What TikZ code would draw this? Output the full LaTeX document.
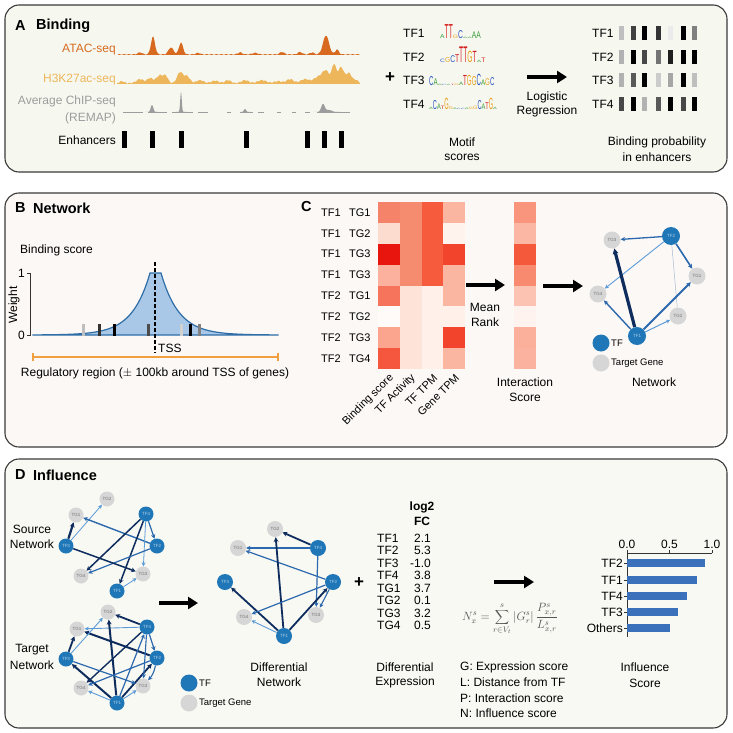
\documentclass[tikz,border=0pt]{standalone}
\usepackage{fontspec}
\setmainfont{Liberation Sans}
\usepackage{graphicx}
\usetikzlibrary{arrows.meta}
\definecolor{bgA}{HTML}{F6F8F0}
\definecolor{bgB}{HTML}{FCF8F6}
\definecolor{bgD}{HTML}{F9F9F3}
\definecolor{frame}{HTML}{3A3A3A}
\definecolor{atac}{HTML}{D76A1F}
\definecolor{hk}{HTML}{EDB65A}
\definecolor{remap}{HTML}{9C9C9C}
\definecolor{tfblue}{HTML}{1F77B8}
\definecolor{tggray}{HTML}{D6D6D6}
\definecolor{edk}{HTML}{0E2D5E}
\definecolor{edm}{HTML}{2C68AD}
\definecolor{edl}{HTML}{5B9BD8}
\definecolor{edv}{HTML}{A8BCD2}
\definecolor{mA}{HTML}{3A9A3A}
\definecolor{mC}{HTML}{2A55C0}
\definecolor{mG}{HTML}{E8A020}
\definecolor{mT}{HTML}{D52020}
\definecolor{curvefill}{HTML}{A9C8E8}
\definecolor{curveline}{HTML}{2E6DA6}
\definecolor{rng}{HTML}{F0A040}
\definecolor{barblue}{HTML}{3B70BB}
\definecolor{txtgray}{HTML}{555555}
\newcommand\lA[1]{\textcolor{mA}{\scalebox{0.56}[\fpeval{1.35*#1}]{A}}}
\newcommand\lC[1]{\textcolor{mC}{\scalebox{0.56}[\fpeval{1.35*#1}]{C}}}
\newcommand\lG[1]{\textcolor{mG}{\scalebox{0.56}[\fpeval{1.35*#1}]{G}}}
\newcommand\lT[1]{\textcolor{mT}{\scalebox{0.56}[\fpeval{1.35*#1}]{T}}}
\newcommand\hrow[5]{%
  \foreach \cc [count=\i from 0] in {#2,#3,#4,#5}{%
    \edef\tmpc{\noexpand\definecolor{hc}{HTML}{\cc}}\tmpc
    \fill[hc] ({378+\i*21.75},{202+#1*20.875}) rectangle ++(21.75,20.875);}}
\begin{document}
\begin{tikzpicture}[x=1pt,y=-1pt, font=\fontsize{12}{14}\selectfont,
  declare function={gs(\x,\c,\w,\h)=\h*exp(-(min(abs((\x-\c)/\w),5))*(min(abs((\x-\c)/\w),5)));},
  panel/.style={draw=frame, line width=1.1pt, rounded corners=14pt},
  ttl/.style={font=\fontsize{14.5}{16}\selectfont\bfseries, anchor=west, inner sep=0pt},
  tx/.style={inner sep=0pt},
  small/.style={inner sep=0pt, font=\fontsize{9.5}{11}\selectfont},
  rowlab/.style={inner sep=0pt, anchor=west, font=\fontsize{11}{13}\selectfont},
  bigarrow/.style={line width=3.2pt, -{Triangle[length=10pt,width=12pt]}},
  tfn/.style={circle, fill=tfblue, inner sep=0pt, minimum size=16pt, text=tfblue!35!white, font=\fontsize{4.5}{5}\selectfont},
  tgn/.style={circle, fill=tggray, inner sep=0pt, minimum size=16pt, text=black!55, font=\fontsize{4.5}{5}\selectfont},
  nedge/.style 2 args={draw=#1, line width=#2, -{Stealth[length=3.5pt 0.7, width=3.5pt 0.7]}},
  ]
\useasboundingbox (0,0) rectangle (732,733);
\fill[white] (0,0) rectangle (732,733);

% ================= Panel A =================
\draw[panel, fill=bgA] (5,5) rectangle (727,172);
\node[ttl] (tA) at (15,26) {A};
\node[ttl] (tAn) at (36,26) {Binding};
\node[tx, anchor=east, text=atac] (lATAC) at (116,50) {ATAC-seq};
\node[tx, anchor=east, text=hk] (lHK) at (116,80) {H3K27ac-seq};
\node[tx, anchor=east, text=remap] (lCh1) at (116,101) {Average ChIP-seq};
\node[tx, anchor=east, text=remap] (lCh2) at (116,118) {(REMAP)};
\node[tx, anchor=east] (lEnh) at (116,140) {Enhancers};
% ATAC track
\fill[atac] (118,55) -- plot[domain=118:360,samples=220] (\x,{55-gs(\x,153,2.8,18)-gs(\x,171,3.5,7)-gs(\x,181,2.8,12)-gs(\x,326,4.2,19)-gs(\x,337,2.5,5)-gs(\x,140,3,2)-gs(\x,198,3,1.5)-gs(\x,240,3,2)-gs(\x,255,4,1.5)-gs(\x,282,3,2.5)-gs(\x,300,3,2.5)-gs(\x,312,3,2)-0.9*abs(sin(37*\x))}) -- (360,55) -- cycle;
% H3K27ac track
\fill[hk] (117,84) -- plot[domain=117:360,samples=240] (\x,{84-gs(\x,122,3,2)-gs(\x,140,5,4)-gs(\x,150,4,5)-gs(\x,160,5,8)-gs(\x,166,3,6)-gs(\x,180,4,11)-gs(\x,187,4,7)-gs(\x,200,5,3)-gs(\x,215,5,2.5)-gs(\x,228,4,3)-gs(\x,245,5,3)-gs(\x,262,6,3)-gs(\x,278,5,2)-gs(\x,290,5,4)-gs(\x,305,6,4)-gs(\x,318,6,6)-gs(\x,326,5,12)-gs(\x,334,3,18)-gs(\x,341,4,16)-gs(\x,349,4,10)-gs(\x,356,3,3)-1.3*abs(sin(41*\x))}) -- (360,84) -- cycle;
% REMAP track
\foreach \a/\b in {123/143,148/167,172/193,198/208,227/231,240/253,258/264,277/281,292/296,305/310,317/350}{
  \draw[remap, line width=0.8pt] (\a,112) -- (\b,112);}
\fill[remap] (146,112) -- plot[domain=146:158,samples=30] (\x,{112-gs(\x,152,1.8,7)}) -- (158,112) -- cycle;
\fill[remap] (176,112) -- plot[domain=176:187,samples=40] (\x,{112-gs(\x,181,1.1,20)}) -- (187,112) -- cycle;
\fill[remap] (241,112) -- plot[domain=241:250,samples=20] (\x,{112-gs(\x,245,1.6,3)}) -- (250,112) -- cycle;
\fill[remap] (314,112) -- plot[domain=314:340,samples=40] (\x,{112-gs(\x,323,2.5,8)-gs(\x,329,4,2)}) -- (340,112) -- cycle;
% enhancers
\foreach \ex in {124,152,181,246,307,324,341}{\fill[black] (\ex-2.5,131) rectangle (\ex+2.5,148);}
% plus
\node[tx, font=\fontsize{17}{18}\selectfont\bfseries] (plusA) at (390,78) {+};
% motifs
\node[rowlab, font=\fontsize{12}{14}\selectfont] (mt1) at (403,33) {TF1};
\node[rowlab, font=\fontsize{12}{14}\selectfont] (mt2) at (403,57) {TF2};
\node[rowlab, font=\fontsize{12}{14}\selectfont] (mt3) at (403,80) {TF3};
\node[rowlab, font=\fontsize{12}{14}\selectfont] (mt4) at (403,104) {TF4};
\node[tx, anchor=base west] (lg1) at (440,38.5) {\lA{0.35}\lT{1.25}\lT{1.25}\lG{0.3}\lC{0.7}\lA{0.12}\lA{0.12}\lA{0.6}\lA{0.6}};
\node[tx, anchor=base west] (lg2) at (440,62.5) {\lC{0.3}\lG{0.45}\lC{0.6}\lT{0.7}\lT{1.4}\lT{1.4}\lG{1.0}\lT{1.0}\lA{0.2}\lT{0.4}};
\node[tx, anchor=base west] (lg3) at (429,86) {\scalebox{0.92}[1]{\lC{0.8}\lA{0.6}\lA{0.12}\lC{0.1}\lA{0.1}\lT{0.1}\lG{0.15}\lA{0.3}\lT{0.9}\lG{0.9}\lG{0.8}\lC{1.0}\lA{0.5}\lG{0.6}\lC{0.7}}};
\node[tx, anchor=base west] (lg4) at (429,110) {\scalebox{0.84}[1]{\lA{0.2}\lC{0.8}\lA{0.5}\lT{0.3}\lG{1.0}\lG{0.25}\lA{0.15}\lC{0.1}\lC{0.1}\lA{0.15}\lG{0.2}\lG{0.3}\lC{0.8}\lA{0.5}\lT{0.6}\lG{1.0}\lA{0.2}}};
\node[tx] (ms1) at (462,142) {Motif};
\node[tx] (ms2) at (462,157) {scores};
% arrow
\coordinate (aA1) at (527,77); \coordinate (aA2) at (567,77);
\draw[bigarrow] (aA1) -- (aA2);
\node[tx] (lr1) at (547,97) {Logistic};
\node[tx] (lr2) at (547,111) {Regression};
% binding prob
\foreach \y/\n in {33/1,57/2,80/3,104/4}{\node[rowlab, font=\fontsize{12}{14}\selectfont] (bp\n) at (592,\y) {TF\n};}
\foreach \y/\vals in {33/{25,75,100,80,8,100,50},57/{30,100,72,55,88,100,100},80/{30,65,100,20,35,100,25},104/{72,100,30,65,100,72,100}}{
  \foreach \v [count=\i] in \vals {
    \pgfmathsetmacro\bx{{621,633,644,658,670,683,694}[\i-1]}
    \fill[black!\v!white] (\bx-2.5,\y-7) rectangle (\bx+2.5,\y+7);}}
\node[tx] (bpr1) at (657,142) {Binding probability};
\node[tx] (bpr2) at (657,157) {in enhancers};

% ================= Panel B/C =================
\draw[panel, fill=bgB] (5,193) rectangle (727,447);
\node[ttl] (tB) at (15,208) {B};
\node[ttl] (tBn) at (33,208) {Network};
\node[tx, anchor=west] (bs) at (20,250) {Binding score};
% curve
\fill[curvefill] (33,335) -- plot[domain=33:150,samples=80] (\x,{335-62*exp((\x-150)/18)}) -- (161,273) -- plot[domain=161:278,samples=80] (\x,{335-62*exp(-(\x-161)/18)}) -- (278,335) -- cycle;
\draw[curveline, line width=1.2pt] (33,335) -- plot[domain=33:150,samples=80] (\x,{335-62*exp((\x-150)/18)}) -- (161,273) -- plot[domain=161:278,samples=80] (\x,{335-62*exp(-(\x-161)/18)}) -- (278,335) -- cycle;
% axis
\coordinate (ax1) at (30,273); \coordinate (ax0) at (30,335);
\draw[black!80, line width=0.8pt] (27,273) -- (ax1) -- (ax0) -- (27,335);
\node[tx, anchor=east] (y1) at (25,273) {1};
\node[tx, anchor=east] (y0) at (25,335) {0};
\node[tx, rotate=90] (wt) at (14,305) {Weight};
% small bars
\foreach \bx/\bc in {83/25,99/80,114/100,148/70,181/18,190/100,199/50}{\fill[black!\bc!white] (\bx-1.5,324) rectangle (\bx+1.5,336);}
% TSS
\coordinate (ts1) at (155,262); \coordinate (ts2) at (155,353);
\draw[black, line width=1.1pt, dash pattern=on 3.5pt off 2.5pt] (ts1) -- (ts2);
\node[tx, anchor=west] (tss) at (158,348) {TSS};
% range
\coordinate (rg1) at (33,357); \coordinate (rg2) at (278,357);
\draw[rng, line width=1.5pt] (rg1) -- (rg2);
\draw[rng, line width=1.5pt] (33,353) -- (33,361) (278,353) -- (278,361);
\node[tx] (reg) at (155,373) {Regulatory region ($\pm$ 100kb around TSS of genes)};

% Panel C
\node[ttl] (tC) at (301,207) {C};
\foreach \r/\a/\b in {0/1/1,1/1/2,2/1/3,3/1/3,4/2/1,5/2/2,6/2/3,7/2/4}{
  \node[rowlab] (rl\r a) at (321,{212.4+\r*20.875}) {TF\a};
  \node[rowlab] (rl\r b) at (349,{212.4+\r*20.875}) {TG\b};}
\hrow{0}{F4836A}{F58B6F}{F55B3C}{FBB6A2}
\hrow{1}{FDDCD0}{F58B6F}{F55B3C}{FFF3EE}
\hrow{2}{E8150E}{F58B6F}{F55B3C}{F2442C}
\hrow{3}{FBB19D}{F58B6F}{F55B3C}{FBB6A2}
\hrow{4}{F6745B}{FDE3D8}{FFF1EA}{FBB6A2}
\hrow{5}{FFFBF9}{FDE3D8}{FFF1EA}{FFF1EA}
\hrow{6}{FBA58F}{FDE3D8}{FFF1EA}{F2442C}
\hrow{7}{F4573E}{FDE3D8}{FFF1EA}{FBB6A2}
\foreach \t [count=\i from 0] in {Binding score,TF Activity,TF TPM,Gene TPM}{
  \node[rowlab, anchor=east, rotate=45] (cl\i) at ({389+\i*21.75+3},376) {\t};}
\coordinate (aC1) at (466,285); \coordinate (aC2) at (505,285);
\draw[bigarrow] (aC1) -- (aC2);
\node[tx] (mr1) at (485,307) {Mean};
\node[tx] (mr2) at (485,322) {Rank};
\foreach \cc [count=\i from 0] in {F9957C,FCB6A4,F4593C,F88A70,FCC2B2,FEF3EE,FBB09C,FBB29F}{
  \edef\tmpc{\noexpand\definecolor{hc}{HTML}{\cc}}\tmpc
  \fill[hc] (514,{202+\i*20.875}) rectangle ++(21.5,20.875);}
\node[tx] (is1) at (525,382) {Interaction};
\node[tx] (is2) at (525,397) {Score};
\coordinate (aC3) at (543,286); \coordinate (aC4) at (583,286);
\draw[bigarrow] (aC3) -- (aC4);
% network C
\node[tgn, minimum size=17pt] (cTG3) at (612,240) {TG3};
\node[tfn, minimum size=18pt] (cTF2) at (671,236) {TF2};
\node[tgn, minimum size=17pt] (cTG1) at (697,276) {TG1};
\node[tgn, minimum size=17pt] (cTG4) at (598,294) {TG4};
\node[tgn, minimum size=17pt] (cTG2) at (678,316) {TG2};
\node[tfn, minimum size=18pt] (cTF1) at (637,336) {TF1};
\draw[nedge={edm}{1.3pt}] (cTF2) -- (cTG3);
\draw[nedge={edl}{0.9pt}] (cTF2) -- (cTG4);
\draw[nedge={edm}{1.6pt}] (cTF2) -- (cTG1);
\draw[edv, line width=0.5pt] (cTF2) -- (cTG2);
\draw[nedge={edk}{3.2pt}] (cTF1) -- (cTG3);
\draw[nedge={edm}{1.4pt}] (cTF1) -- (cTG4);
\draw[nedge={edm}{1.8pt}] (cTF1) -- (cTG1);
\draw[nedge={edl}{1pt}] (cTF1) -- (cTG2);
\node[tfn, minimum size=17pt] (cLtf) at (601,343) {};
\node[small, anchor=west] (cLtft) at (611,343) {TF};
\node[tgn, minimum size=17pt] (cLtg) at (601,363) {};
\node[small, anchor=west] (cLtgt) at (611,363) {Target Gene};
\node[tx] (nw) at (654,382) {Network};

% ================= Panel D =================
\draw[panel, fill=bgD] (5,459) rectangle (727,728);
\node[ttl] (tD) at (15,475) {D};
\node[ttl] (tDn) at (33,475) {Influence};
\node[tx] (sn1) at (32,529) {Source};
\node[tx] (sn2) at (32,544) {Network};
\node[tx] (tn1) at (32,650) {Target};
\node[tx] (tn2) at (32,665) {Network};
% source network
\node[tgn, minimum size=15pt] (sTG2) at (107,499) {TG2};
\node[tgn, minimum size=15pt] (sTG1) at (76,515) {TG1};
\node[tfn, minimum size=15pt] (sTF4) at (146,514) {TF4};
\node[tfn, minimum size=15pt] (sTF3) at (66,546) {TF3};
\node[tfn, minimum size=15pt] (sTF2) at (157,546) {TF2};
\node[tgn, minimum size=15pt] (sTG4) at (81,576) {TG4};
\node[tgn, minimum size=15pt] (sTG3) at (143,574) {TG3};
\node[tfn, minimum size=15pt] (sTF1) at (117,591) {TF1};
\draw[nedge={edk}{2.2pt}] (sTF3) -- (sTG1);
\draw[nedge={edl}{0.8pt}] (sTF3) -- (sTG2);
\draw[nedge={edm}{1.4pt}] (sTF2) -- (sTG1);
\draw[nedge={edk}{1.5pt}] (sTF4) -- (sTG4);
\draw[nedge={edk}{1.5pt}] (sTF4) -- (sTF1);
\draw[nedge={edm}{1.2pt}] (sTF4) -- (sTF2);
\draw[nedge={edl}{0.8pt}] (sTF4) -- (sTG3);
\draw[nedge={edm}{1.2pt}] (sTF2) -- (sTG4);
\draw[nedge={edk}{1.5pt}] (sTF3) -- (sTG3);
\draw[nedge={edl}{0.8pt}] (sTF1) -- (sTG3);
% target network
\node[tgn, minimum size=15pt] (tTG2) at (108,612) {TG2};
\node[tgn, minimum size=15pt] (tTG1) at (77,629) {TG1};
\node[tfn, minimum size=15pt] (tTF4) at (147,627) {TF4};
\node[tfn, minimum size=15pt] (tTF3) at (66,659) {TF3};
\node[tfn, minimum size=15pt] (tTF2) at (157,658) {TF2};
\node[tgn, minimum size=15pt] (tTG4) at (81,688) {TG4};
\node[tgn, minimum size=15pt] (tTG3) at (143,686) {TG3};
\node[tfn, minimum size=15pt] (tTF1) at (117,703) {TF1};
\draw[nedge={edk}{1.8pt}] (tTF4) -- (tTG2);
\draw[nedge={edl}{0.9pt}] (tTF4) -- (tTG1);
\draw[nedge={edk}{2pt}] (tTF2) -- (tTG1);
\draw[nedge={edk}{1.8pt}] (tTF3) -- (tTG1);
\draw[nedge={edl}{0.9pt}] (tTF3) -- (tTG2);
\draw[nedge={edk}{2pt}] (tTF1) -- (tTG2);
\draw[nedge={edk}{2pt}] (tTF1) -- (tTF3);
\draw[nedge={edm}{1.2pt}] (tTF1) -- (tTF4);
\draw[nedge={edk}{1.8pt}] (tTF1) -- (tTF2);
\draw[nedge={edl}{0.9pt}] (tTF1) -- (tTG4);
\draw[nedge={edl}{0.9pt}] (tTF1) -- (tTG3);
\draw[nedge={edk}{1.4pt}] (tTF4) -- (tTG4);
\draw[nedge={edm}{1.2pt}] (tTF4) -- (tTF2);
\draw[nedge={edm}{1.1pt}] (tTF4) -- (tTG3);
\draw[nedge={edm}{1.2pt}] (tTF2) -- (tTG4);
\draw[nedge={edm}{1.2pt}] (tTF3) -- (tTG3);
\draw[nedge={edm}{1.1pt}] (tTF2) to[bend left=15] (tTG3);
% arrow D1
\coordinate (aD1) at (159,603); \coordinate (aD2) at (198,603);
\draw[bigarrow] (aD1) -- (aD2);
% legend D
\node[tfn, minimum size=17pt] (dLtf) at (189,683) {};
\node[small, anchor=west] (dLtft) at (199,683) {TF};
\node[tgn, minimum size=17pt] (dLtg) at (189,703) {};
\node[small, anchor=west] (dLtgt) at (199,703) {Target Gene};
% differential network
\node[tgn, minimum size=16pt] (dTG2) at (275,529) {TG2};
\node[tgn, minimum size=16pt] (dTG1) at (238,548) {TG1};
\node[tfn, minimum size=16pt] (dTF4) at (318,548) {TF4};
\node[tfn, minimum size=16pt] (dTF3) at (225,582) {TF3};
\node[tfn, minimum size=16pt] (dTF2) at (333,582) {TF2};
\node[tgn, minimum size=16pt] (dTG4) at (244,617) {TG4};
\node[tgn, minimum size=16pt] (dTG3) at (316,615) {TG3};
\node[tfn, minimum size=16pt] (dTF1) at (284,636) {TF1};
\draw[nedge={edk}{1.8pt}] (dTF4) -- (dTG2);
\draw[nedge={edm}{1.2pt}] (dTF4) -- (dTG1);
\draw[nedge={edm}{1.2pt}] (dTF2) -- (dTG1);
\draw[nedge={edm}{1.2pt}] (dTF4) -- (dTG3);
\draw[nedge={edk}{1.8pt}] (dTF1) -- (dTG2);
\draw[nedge={edk}{1.8pt}] (dTF1) -- (dTF3);
\draw[nedge={edk}{1.8pt}] (dTF1) -- (dTF2);
\draw[nedge={edl}{0.9pt}] (dTF1) -- (dTG4);
\draw[nedge={edm}{1.2pt}] (dTF2) -- (dTG4);
\draw[nedge={edm}{1.1pt}] (dTF2) -- (dTG3);
\node[tx] (dn1) at (279,667) {Differential};
\node[tx] (dn2) at (279,682) {Network};
\node[tx, font=\fontsize{17}{18}\selectfont\bfseries] (plusD) at (359,583) {+};
% log2 FC
\node[tx, font=\fontsize{12}{14}\selectfont\bfseries] (fc1) at (422,507) {log2};
\node[tx, font=\fontsize{12}{14}\selectfont\bfseries] (fc2) at (422,521) {FC};
\foreach \n/\v [count=\i from 0] in {TF1/2.1,TF2/5.3,TF3/-1.0,TF4/3.8,TG1/3.7,TG2/0.1,TG3/3.2,TG4/0.5}{
  \node[rowlab, font=\fontsize{12}{14}\selectfont] (fn\i) at (377,{538+\i*12.5}) {\n};
  \node[rowlab, anchor=east, font=\fontsize{12}{14}\selectfont] (fv\i) at (431,{538+\i*12.5}) {\v};}
\node[tx] (de1) at (405,667) {Differential};
\node[tx] (de2) at (405,682) {Expression};
\coordinate (aD3) at (494,582); \coordinate (aD4) at (534,582);
\draw[bigarrow] (aD3) -- (aD4);
\node[tx, text=txtgray, font=\fontsize{12}{14}\selectfont] (form) at (510,619) {$\displaystyle N^{s}_{x} = \sum_{r\in V_t}^{s} |G^{s}_{r}|\,\frac{P^{s}_{x,r}}{L^{s}_{x,r}}$};
\node[tx, anchor=west] (gl1) at (460,667) {G: Expression score};
\node[tx, anchor=west] (gl2) at (460,682) {L: Distance from TF};
\node[tx, anchor=west] (gl3) at (460,698) {P: Interaction score};
\node[tx, anchor=west] (gl4) at (460,713) {N: Influence score};
% bar chart
\coordinate (bo) at (627,553);
\draw[black!80, line width=0.8pt] (627,550) -- (627,637) (627,553) -- (712,553) (669.5,550) -- (669.5,553) (712,550) -- (712,553);
\foreach \t/\xx in {0.0/627,0.5/669.5,1.0/712}{\node[tx, font=\fontsize{12}{14}\selectfont] (ax\xx) at (\xx,544) {\t};}
\foreach \n/\v/\y in {TF2/0.92/563,TF1/0.82/580,TF4/0.71/596,TF3/0.60/612,Others/0.50/628}{
  \fill[barblue] (627,\y-4) rectangle ({627+85*\v},\y+4);
  \draw[black!80, line width=0.8pt] (624,\y) -- (627,\y);
  \node[tx, anchor=east, font=\fontsize{12}{14}\selectfont] (bl\n) at (623,\y) {\n};}
\node[tx] (if1) at (645,667) {Influence};
\node[tx] (if2) at (645,683) {Score};
\end{tikzpicture}
\end{document}
